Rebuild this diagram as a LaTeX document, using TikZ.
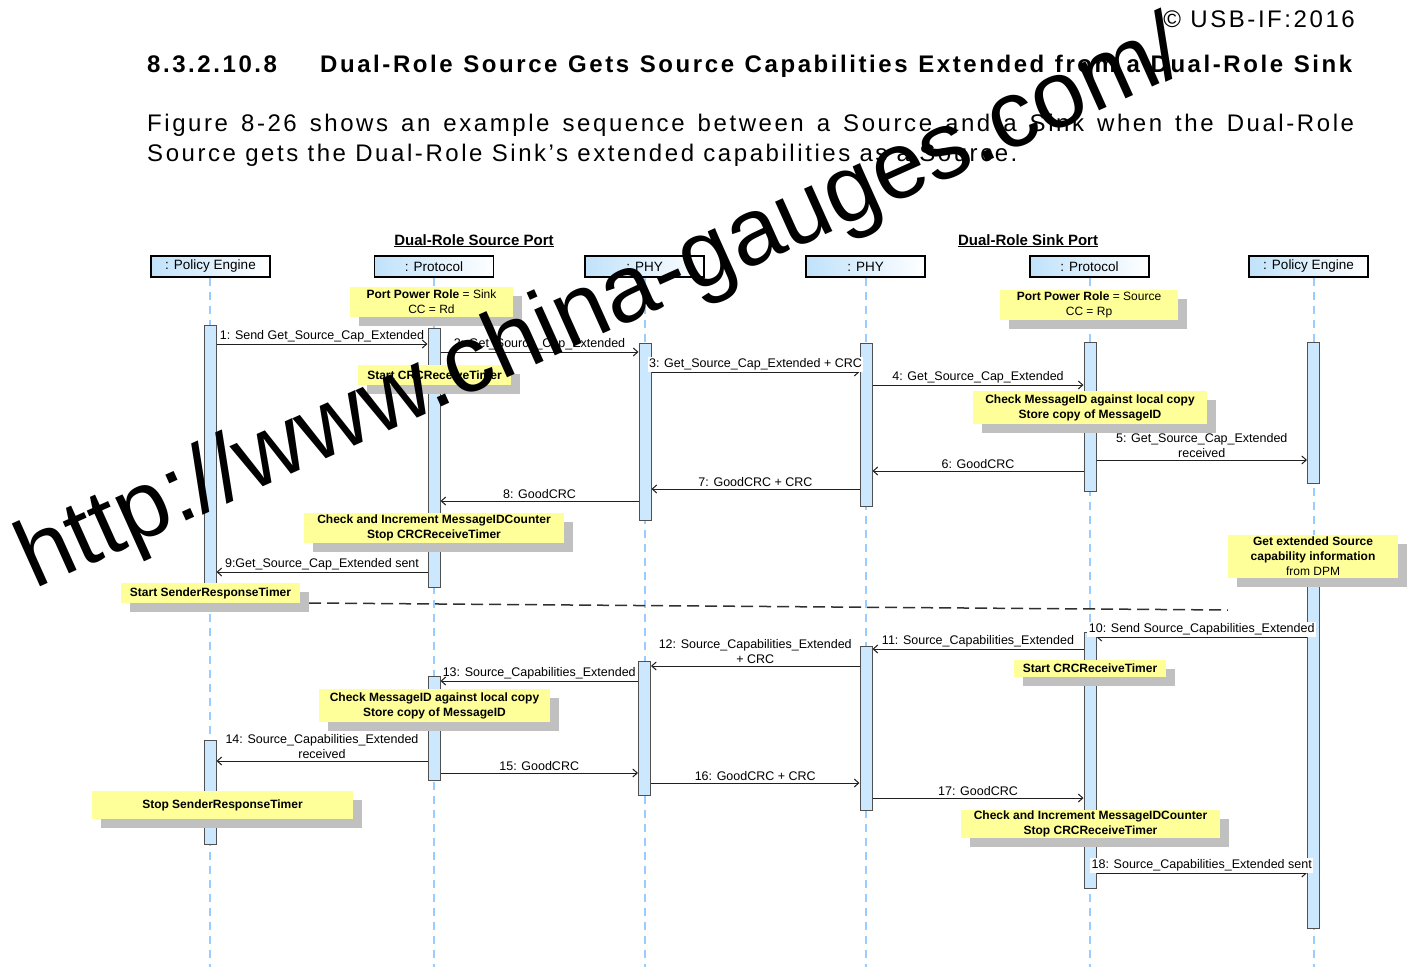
\documentclass[tikz,border=0pt]{standalone}
\usepackage{fontspec}
\setmainfont{Liberation Sans}
\newfontfamily\docfont[LetterSpace=10.7]{Liberation Sans}
\usetikzlibrary{arrows.meta,shadows}

\definecolor{headblue}{HTML}{C0E2FA}
\definecolor{lifeblue}{HTML}{99CCFF}
\definecolor{barblue}{HTML}{CCE8FF}
\definecolor{bargray}{HTML}{505050}
\definecolor{noteyellow}{HTML}{FFFF99}
\definecolor{shadowgray}{HTML}{C0C0C0}
\definecolor{msgblack}{HTML}{202020}
\definecolor{sepgray}{HTML}{303030}

\pgfdeclarelayer{paper}
\pgfdeclarelayer{lifelines}
\pgfsetlayers{paper,lifelines,main}

% activation bar: name, x, top, bottom
\newcommand\mkbar[4]{\node[actbar, minimum height={#4-#3}] (#1) at (#2,{(#3+#4)/2}) {};}
% note: name, x1, y1, x2, y2, text
\newcommand\mknote[7][]{\node[note, #1, minimum width={#4-#2}, minimum height={#5-#3}] (#6) at ({(#2+#4)/2},{(#3+#5)/2}) {#7};}
% message: from anchor, to anchor, y, label, label options
\newcommand\mkmsg[5]{\draw[msg] (#1 |- 0,#3) -- node[lbl, #5] {#4} (#2 |- 0,#3);}

\begin{document}
\begin{tikzpicture}[x=1pt, y=-1pt,
  head/.style={draw=black, line width=1.2pt, left color=headblue, right color=white,
    minimum width=119pt, minimum height=21pt, inner sep=0pt, font=\fontsize{13.5}{15}\selectfont},
  life/.style={draw=lifeblue, line width=2pt, dash pattern=on 8pt off 6pt},
  actbar/.style={draw=bargray, fill=barblue, line width=1pt, minimum width=12pt, inner sep=0pt},
  msg/.style={draw=msgblack, line width=1pt, -{Straight Barb[length=4.5pt,width=8pt]}},
  lbl/.style={font=\fontsize{12.5}{15}\selectfont, inner sep=1.5pt, align=center, above},
  note/.style={fill=noteyellow, inner sep=0pt, align=center,
    font=\fontsize{12}{15}\selectfont\bfseries,
    drop shadow={shadow xshift=9pt, shadow yshift=-9pt, fill=shadowgray, opacity=1}},
  notemd/.style={font=\fontsize{12}{15}\selectfont\mdseries},
  grp/.style={font=\fontsize{15}{18}\selectfont\bfseries, inner sep=0pt, anchor=base},
  doc/.style={inner sep=0pt, font=\docfont\fontsize{24}{30}\selectfont},
  sep/.style={draw=sepgray, line width=1.5pt, dash pattern=on 12pt off 6pt}
]
\useasboundingbox (0,0) rectangle (1410,967);
\begin{pgfonlayer}{paper}
  \fill[white] (0,0) rectangle (1410,967);
\end{pgfonlayer}

% page text
\node[doc, anchor=base east] (copy) at (1355,27) {© USB-IF:2016};
\node[doc, anchor=base west, font=\docfont\fontsize{24}{30}\selectfont\bfseries] (secno) at (147,72) {8.3.2.10.8};
\node[doc, anchor=base west, font=\docfont\fontsize{24}{30}\selectfont\bfseries] (title) at (320,72)
  {\makebox[1032pt][s]{Dual-Role Source Gets Source Capabilities Extended from a Dual-Role Sink}};
\node[doc, anchor=base west] (para1) at (147,131)
  {\makebox[1207pt][s]{Figure 8-26 shows an example sequence between a Source and a Sink when the Dual-Role}};
\node[doc, anchor=base west] (para2) at (147,161)
  {Source gets the Dual-Role Sink’s extended capabilities as a Source.};

% port groups
\node[grp] (srcport) at (474,245) {\underline{Dual-Role Source Port}};
\node[grp] (snkport) at (1028,245) {\underline{Dual-Role Sink Port}};

% lifeline heads
\node[head] (pe1) at (210.5,266.5) {: Policy Engine};
\node[head] (pr1) at (434,266.5) {: Protocol};
\node[head] (phy1) at (644.5,266.5) {: PHY};
\node[head] (phy2) at (865.5,266.5) {: PHY};
\node[head] (pr2) at (1089.5,266.5) {: Protocol};
\node[head] (pe2) at (1308.5,266.5) {: Policy Engine};

% activation bars, first exchange
\mkbar{a1}{210}{325}{598}
\mkbar{b1}{434}{328}{587}
\mkbar{c1}{645}{343}{520}
\mkbar{d1}{866}{343}{506}
\mkbar{e1}{1090}{342}{491}
\mkbar{f1}{1313.5}{342}{483}
% activation bars, second exchange
\mkbar{f2}{1313.5}{560}{928}
\mkbar{e2}{1090}{632}{888}
\mkbar{d2}{866}{646}{810}
\mkbar{c2}{644.5}{661}{795}
\mkbar{b2}{434}{676}{780}
\mkbar{a2}{210}{740}{844}

% lifelines, behind the bars
\begin{pgfonlayer}{lifelines}
\foreach \h/\b in {pe1/a1, pr1/b1, phy1/c1, phy2/d1, pr2/e1, pe2/f1}
  \draw[life] (\b |- \h.south) -- (\b |- 0,967);
\end{pgfonlayer}

% messages
\mkmsg{a1.east}{b1.west}{344}{1: Send Get\_Source\_Cap\_Extended}{}
\mkmsg{b1.east}{c1.west}{352}{2: Get\_Source\_Cap\_Extended}{}
\mkmsg{c1.east}{d1.west}{372}{3: Get\_Source\_Cap\_Extended + CRC}{fill=white}
\mkmsg{d1.east}{e1.west}{385}{4: Get\_Source\_Cap\_Extended}{}
\mkmsg{e1.east}{f1.west}{460}{5: Get\_Source\_Cap\_Extended\\received}{}
\mkmsg{e1.west}{d1.east}{471}{6: GoodCRC}{}
\mkmsg{d1.west}{c1.east}{489}{7: GoodCRC + CRC}{}
\mkmsg{c1.west}{b1.east}{501}{8: GoodCRC}{}
\mkmsg{b1.west}{a1.east}{572}{9:Get\_Source\_Cap\_Extended sent}{}
\mkmsg{f2.west}{e2.east}{637}{10: Send Source\_Capabilities\_Extended}{fill=white}
\mkmsg{e2.west}{d2.east}{649}{11: Source\_Capabilities\_Extended}{}
\mkmsg{d2.west}{c2.east}{666}{12: Source\_Capabilities\_Extended\\+ CRC}{}
\mkmsg{c2.west}{b2.east}{681}{13: Source\_Capabilities\_Extended}{}
\mkmsg{b2.west}{a2.east}{761}{14: Source\_Capabilities\_Extended\\received}{}
\mkmsg{b2.east}{c2.west}{773}{15: GoodCRC}{}
\mkmsg{c2.east}{d2.west}{783}{16: GoodCRC + CRC}{}
\mkmsg{d2.east}{e2.west}{798}{17: GoodCRC}{}
\mkmsg{e2.east}{f2.west}{873}{18: Source\_Capabilities\_Extended sent}{fill=white}

% notes
\mknote[notemd]{350}{287}{513}{317}{n1}{{\bfseries Port Power Role} = Sink\\CC = Rd}
\mknote{358}{365}{511}{385}{n2}{Start CRCReceiveTimer}
\mknote[notemd]{1000}{290}{1178}{320}{n3}{{\bfseries Port Power Role} = Source\\CC = Rp}
\mknote{973}{391}{1207}{424}{n4}{Check MessageID against local copy\\Store copy of MessageID}
\mknote{304}{513}{564}{543}{n5}{Check and Increment MessageIDCounter\\Stop CRCReceiveTimer}
\mknote{121}{583}{300}{603}{n6}{Start SenderResponseTimer}
\mknote{1228}{535}{1398}{578}{n7}{Get extended Source\\capability information\\\mdseries from DPM}
\mknote{1014}{660}{1166}{677}{n8}{Start CRCReceiveTimer}
\mknote{319}{689}{550}{722}{n9}{Check MessageID against local copy\\Store copy of MessageID}
\mknote{92}{791}{353}{819}{n10}{Stop SenderResponseTimer}
\mknote{961}{810}{1220}{838}{n11}{Check and Increment MessageIDCounter\\Stop CRCReceiveTimer}

% separator between the two exchanges
\draw[sep] ([xshift=9pt]n6.east |- 0,603) -- (n7.west |- 0,610);

% site stamp across the page
\node[inner sep=0pt, anchor=base west, rotate=24.2, font=\fontsize{95}{95}\selectfont] (stamp) at (34,590)
  {http://www.china-gauges.com/};
\end{tikzpicture}
\end{document}
